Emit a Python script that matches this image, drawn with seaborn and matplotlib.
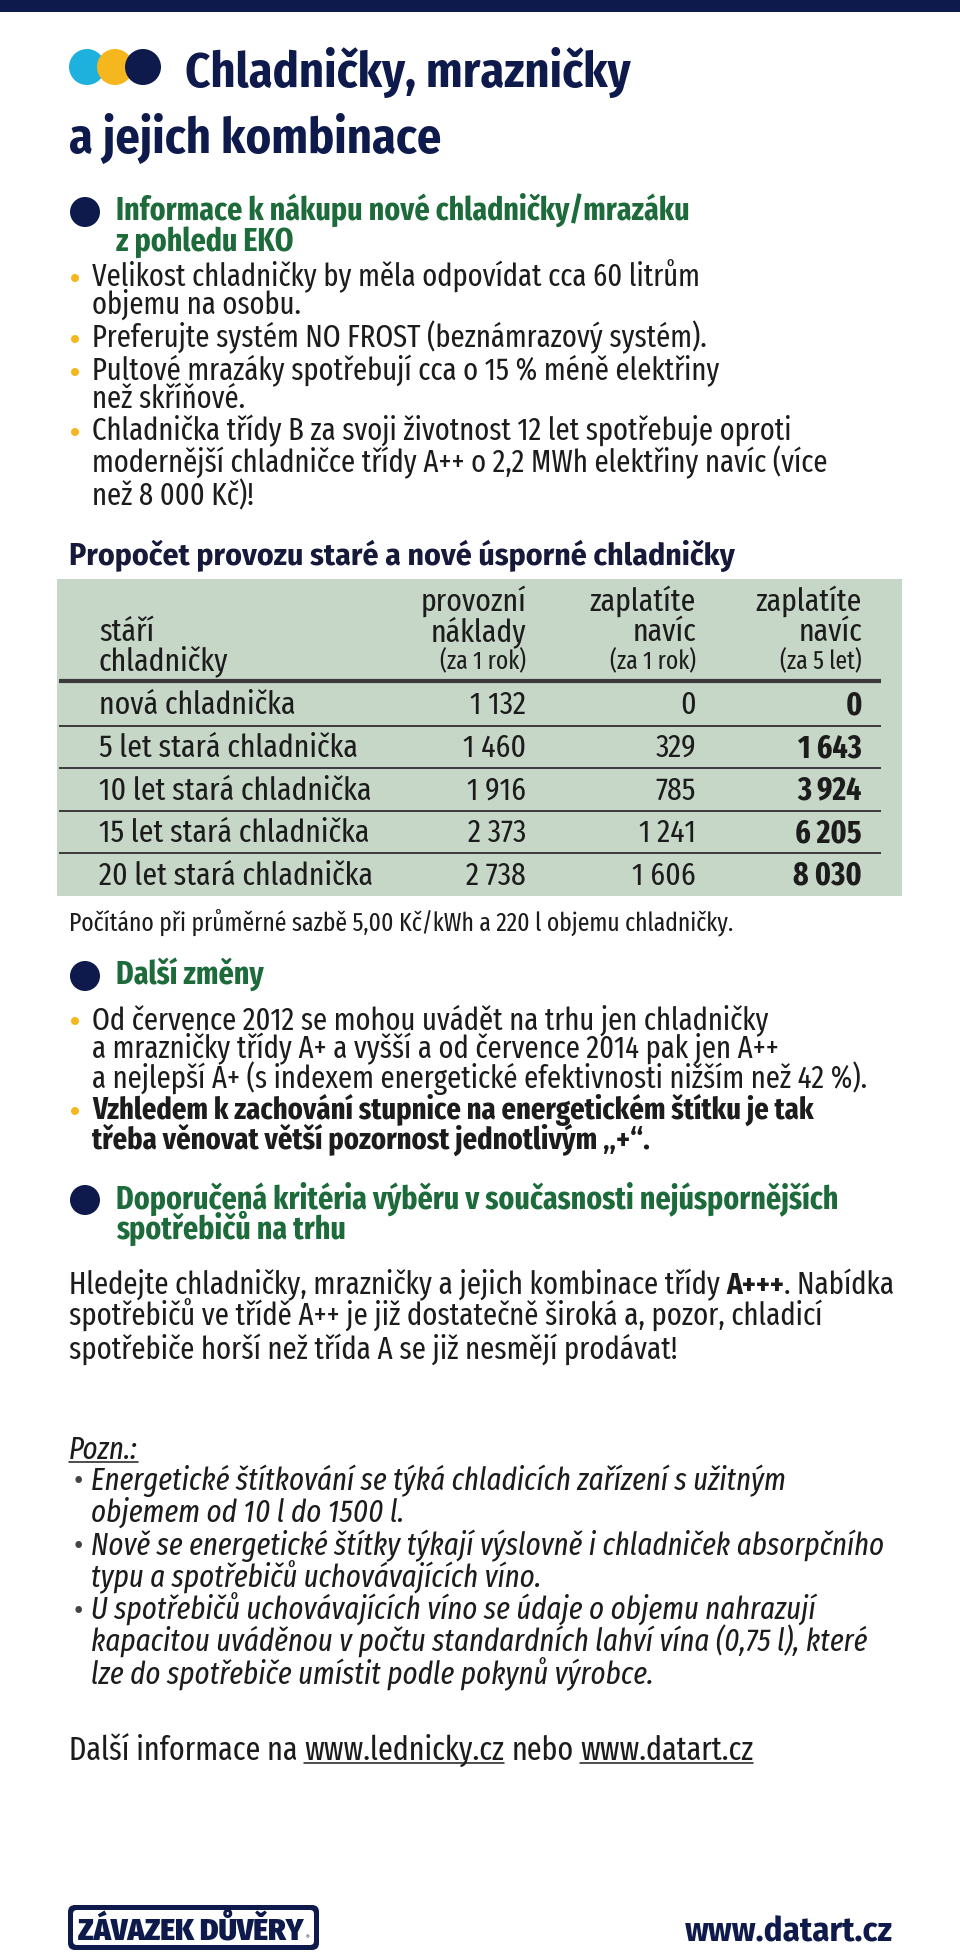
import os
import numpy as np
import pandas as pd
import matplotlib
matplotlib.use("Agg")
import matplotlib.pyplot as plt
import matplotlib.font_manager as fm
import seaborn as sns
from matplotlib.patches import Circle, Rectangle, FancyBboxPatch
from matplotlib.colors import ListedColormap

# data tabulky
ages = ["nová chladnička", "5 let stará chladnička", "10 let stará chladnička",
        "15 let stará chladnička", "20 let stará chladnička"]
provozni_naklady = [1132, 1460, 1916, 2373, 2738]
navic_1_rok = [0, 329, 785, 1241, 1606]
navic_5_let = [0, 1643, 3924, 6205, 8030]
col_heads = [["provozní", "náklady", "(za 1 rok)"],
             ["zaplatíte", "navíc", "(za 1 rok)"],
             ["zaplatíte", "navíc", "(za 5 let)"]]
row_head = ["stáří", "chladničky"]

NAVY = "#0d1a4b"
GREEN = "#1d6b3b"
CYAN = "#1fb1de"
YELLOW = "#f5b71d"
TEXT = "#1c1c1c"
TABLE_BG = "#c6d6c7"

sns.set_theme(style="white")
plt.rcParams["font.family"] = ["DejaVu Sans"]

# pisma: uzke rezy, podle souboru, s nahradami
by_file = {os.path.basename(e.fname): e.fname for e in fm.fontManager.ttflist}
face_files = {
    "normal": ["FiraSansExtraCondensed-Regular.ttf", "FiraSansCondensed-Regular.ttf", "DejaVuSansCondensed.ttf"],
    "bold": ["FiraSansExtraCondensed-Bold.ttf", "FiraSansCondensed-Bold.ttf", "DejaVuSansCondensed-Bold.ttf"],
    "italic": ["FiraSansExtraCondensed-Italic.ttf", "FiraSansCondensed-Italic.ttf", "DejaVuSansCondensed-Oblique.ttf"],
    "cbold": ["FiraSansCondensed-Bold.ttf", "DejaVuSansCondensed-Bold.ttf"],
    "black": ["FiraSansCondensed-Black.ttf", "FiraSansCondensed-ExtraBold.ttf", "DejaVuSansCondensed-Bold.ttf"],
}
FACES = {}
for key, names in face_files.items():
    for n in names:
        if n in by_file:
            FACES[key] = by_file[n]
            break


def fp(size, face="normal"):
    if face in FACES:
        return fm.FontProperties(fname=FACES[face], size=size)
    return fm.FontProperties(family="DejaVu Sans", size=size,
                             weight="normal" if face in ("normal", "italic") else "bold",
                             style="italic" if face == "italic" else "normal")


W, H = 960, 1959
fig = plt.figure(figsize=(W / 100, H / 100), dpi=100)
ax = fig.add_axes([0, 0, 1, 1])
ax.set_xlim(0, W)
ax.set_ylim(H, 0)
ax.axis("off")
renderer = fig.canvas.get_renderer()


def T(x, y, s, size, face="normal", color=TEXT, ha="left", on=None):
    on = on or ax
    return on.text(x, y, s, fontproperties=fp(size, face), color=color, ha=ha, va="baseline")


def width_of(s, size, face="normal"):
    t = T(0, 0, s, size, face)
    w = t.get_window_extent(renderer).width
    t.remove()
    return w


def fit(s, target, face="normal"):
    return 20 * target / width_of(s, 20, face)


def space_w(size, face="normal"):
    return width_of("a a", size, face) - width_of("aa", size, face)


def runs_line(x, y, runs, size, color=TEXT):
    # runs: (text, face, underline)
    for txt, face, under in runs:
        sp = space_w(size, face)
        lead = len(txt) - len(txt.lstrip(" "))
        trail = len(txt) - len(txt.rstrip(" "))
        x += lead * sp
        t = T(x, y, txt.strip(" "), size, face, color)
        w = t.get_window_extent(renderer).width
        if under:
            ax.plot([x, x + w], [y + 3, y + 3], color=color, lw=1.1)
        x += w + trail * sp


title_size = fit("Chladničky, mrazničky", 447, "cbold")
head_size = fit("Informace k nákupu nové chladničky/mrazáku", 574, "bold")
body_size = fit("Velikost chladničky by měla odpovídat cca 60 litrům", 609)
tabtitle_size = fit("Propočet provozu staré a nové úsporné chladničky", 666, "cbold")
row_size = fit("10 let stará chladnička", 272)
small_size = fit("(za 1 rok)", 86)
foot_size = fit("Počítáno při průměrné sazbě 5,00 Kč/kWh a 220 l objemu chladničky.", 665)
note_size = fit("Nově se energetické štítky týkají výslovně i chladniček absorpčního", 794, "italic")
para_size = min(fit("spotřebičů ve třídě A++ je již dostatečně široká a, pozor, chladicí", 816),
                fit("Hledejte chladničky, mrazničky a jejich kombinace třídy A+++. Nabídka", 824))
link_size = fit("Další informace na www.lednicky.cz nebo www.datart.cz", 686)
url_size = fit("www.datart.cz", 208, "cbold")
logo_size = fit("ZÁVAZEK DŮVĚRY", 227, "black")

# horni pruh
ax.add_patch(Rectangle((0, 0), W, 12, color=NAVY, lw=0))

# tri kolecka
for cx, c in zip([87, 115, 143], [CYAN, YELLOW, NAVY]):
    ax.add_patch(Circle((cx, 67), 18, color=c, lw=0))

T(185, 87, "Chladničky, mrazničky", title_size, "cbold", color=NAVY)
T(69, 153, "a jejich kombinace", title_size, "cbold", color=NAVY)


def section(yc, lines):
    ax.add_patch(Circle((85, yc), 15, color=NAVY, lw=0))
    for i, s in enumerate(lines):
        T(116, yc + 8 + i * 31, s, head_size, "bold", color=GREEN)


def bullets(items, size=body_size):
    for yc, lines, face in items:
        ax.add_patch(Circle((75, yc + 1), 4, color=YELLOW, lw=0))
        for s, dy in lines:
            T(92, yc + 9 + dy, s, size, face)


# sekce 1
section(212, ["Informace k nákupu nové chladničky/mrazáku", "z pohledu EKO"])
bullets([
    (277, [("Velikost chladničky by měla odpovídat cca 60 litrům", 0),
           ("objemu na osobu.", 28)], "normal"),
    (338, [("Preferujte systém NO FROST (beznámrazový systém).", 0)], "normal"),
    (371, [("Pultové mrazáky spotřebují cca o 15 % méně elektřiny", 0),
           ("než skříňové.", 28)], "normal"),
    (431, [("Chladnička třídy B za svoji životnost 12 let spotřebuje oproti", 0),
           ("modernější chladničce třídy A++ o 2,2 MWh elektřiny navíc (více", 32),
           ("než 8 000 Kč)!", 65)], "normal"),
])

# tabulka
T(69, 565, "Propočet provozu staré a nové úsporné chladničky", tabtitle_size, "cbold",
  color="#16193a")

T_L, T_R, T_T, T_B = 57, 902, 579, 896
ax_t = fig.add_axes([T_L / W, 1 - T_B / H, (T_R - T_L) / W, (T_B - T_T) / H])
df = pd.DataFrame({"provozni": provozni_naklady, "navic_rok": navic_1_rok,
                   "navic_5": navic_5_let}, index=ages)
sns.heatmap(df, cmap=ListedColormap([TABLE_BG]), cbar=False, ax=ax_t,
            xticklabels=False, yticklabels=False, linewidths=0)


def tx(px):
    return 3 * (px - T_L) / (T_R - T_L)


def ty(px):
    return (px - 683) / 42.5


ax_t.set_facecolor(TABLE_BG)
ax_t.set_xlim(0, 3)
ax_t.set_ylim(len(ages), ty(T_T))
for sp in ax_t.spines.values():
    sp.set_visible(False)

col_right = [526, 696, 862]
head_y = [611, 641, 669]
for j, lines in enumerate(col_heads):
    for i, s in enumerate(lines):
        T(tx(col_right[j]), ty(head_y[i]), s, small_size if i == 2 else row_size,
          ha="right", on=ax_t)
for i, s in enumerate(row_head):
    T(tx(99), ty(head_y[i + 1] + (1 if i else 0)), s, row_size, on=ax_t)

ax_t.hlines(ty(681), tx(59), tx(881), color="#3a3a3a", lw=3)
ax_t.hlines(np.arange(1, len(ages)), tx(59), tx(881), color="#3a3a3a", lw=1.4)


def fmt(v):
    return f"{v:,}".replace(",", " ")


for i, name in enumerate(ages):
    yb = i + 0.5 + 10 / 42.5
    T(tx(99), yb, name, row_size, on=ax_t)
    T(tx(col_right[0]), yb, fmt(provozni_naklady[i]), row_size, ha="right", on=ax_t)
    T(tx(col_right[1]), yb, fmt(navic_1_rok[i]), row_size, ha="right", on=ax_t)
    T(tx(col_right[2]), yb, fmt(navic_5_let[i]), row_size, "bold", ha="right", on=ax_t)

T(69, 930, "Počítáno při průměrné sazbě 5,00 Kč/kWh a 220 l objemu chladničky.", foot_size)

# sekce 2
section(976, ["Další změny"])
bullets([
    (1020, [("Od července 2012 se mohou uvádět na trhu jen chladničky", 0),
            ("a mrazničky třídy A+ a vyšší a od července 2014 pak jen A++", 29),
            ("a nejlepší A+ (s indexem energetické efektivnosti nižším než 42 %).", 59)],
     "normal"),
    (1110, [("Vzhledem k zachování stupnice na energetickém štítku je tak", 0),
            ("třeba věnovat větší pozornost jednotlivým „+“.", 30)], "bold"),
])

# sekce 3
section(1200, ["Doporučená kritéria výběru v současnosti nejúspornějších",
               "spotřebičů na trhu"])
runs_line(69, 1294, [("Hledejte chladničky, mrazničky a jejich kombinace třídy ", "normal", False),
                     ("A+++", "bold", False),
                     (". Nabídka", "normal", False)], para_size)
T(69, 1326, "spotřebičů ve třídě A++ je již dostatečně široká a, pozor, chladicí", para_size)
T(69, 1359, "spotřebiče horší než třída A se již nesmějí prodávat!", para_size)

# poznamky
runs_line(69, 1459, [("Pozn.:", "italic", True)], note_size)
notes = [
    (1481, ["Energetické štítkování se týká chladicích zařízení s užitným",
            "objemem od 10 l do 1500 l."]),
    (1546, ["Nově se energetické štítky týkají výslovně i chladniček absorpčního",
            "typu a spotřebičů uchovávajících víno."]),
    (1611, ["U spotřebičů uchovávajících víno se údaje o objemu nahrazují",
            "kapacitou uváděnou v počtu standardních lahví vína (0,75 l), které",
            "lze do spotřebiče umístit podle pokynů výrobce."]),
]
for yc, lines in notes:
    T(74, yc + 9, "•", note_size, color="#444444")
    for i, s in enumerate(lines):
        T(91, yc + 9 + i * 32, s, note_size, "italic")

runs_line(69, 1760, [("Další informace na ", "normal", False),
                     ("www.lednicky.cz", "normal", True),
                     (" nebo ", "normal", False),
                     ("www.datart.cz", "normal", True)], link_size)

# paticka
ax.add_patch(FancyBboxPatch((68, 1905), 251, 45, boxstyle="round,pad=0,rounding_size=7",
                            facecolor=NAVY, edgecolor="none"))
ax.add_patch(FancyBboxPatch((73, 1910), 241, 35, boxstyle="round,pad=0,rounding_size=4",
                            facecolor="white", edgecolor="none"))
T(78, 1939, "ZÁVAZEK DŮVĚRY", logo_size, "black", color=NAVY)
T(306, 1939, "®", 5, color=NAVY)
T(893, 1941, "www.datart.cz", url_size, "cbold", color=NAVY, ha="right")

fig.savefig("out.png", dpi=100, facecolor="white")
